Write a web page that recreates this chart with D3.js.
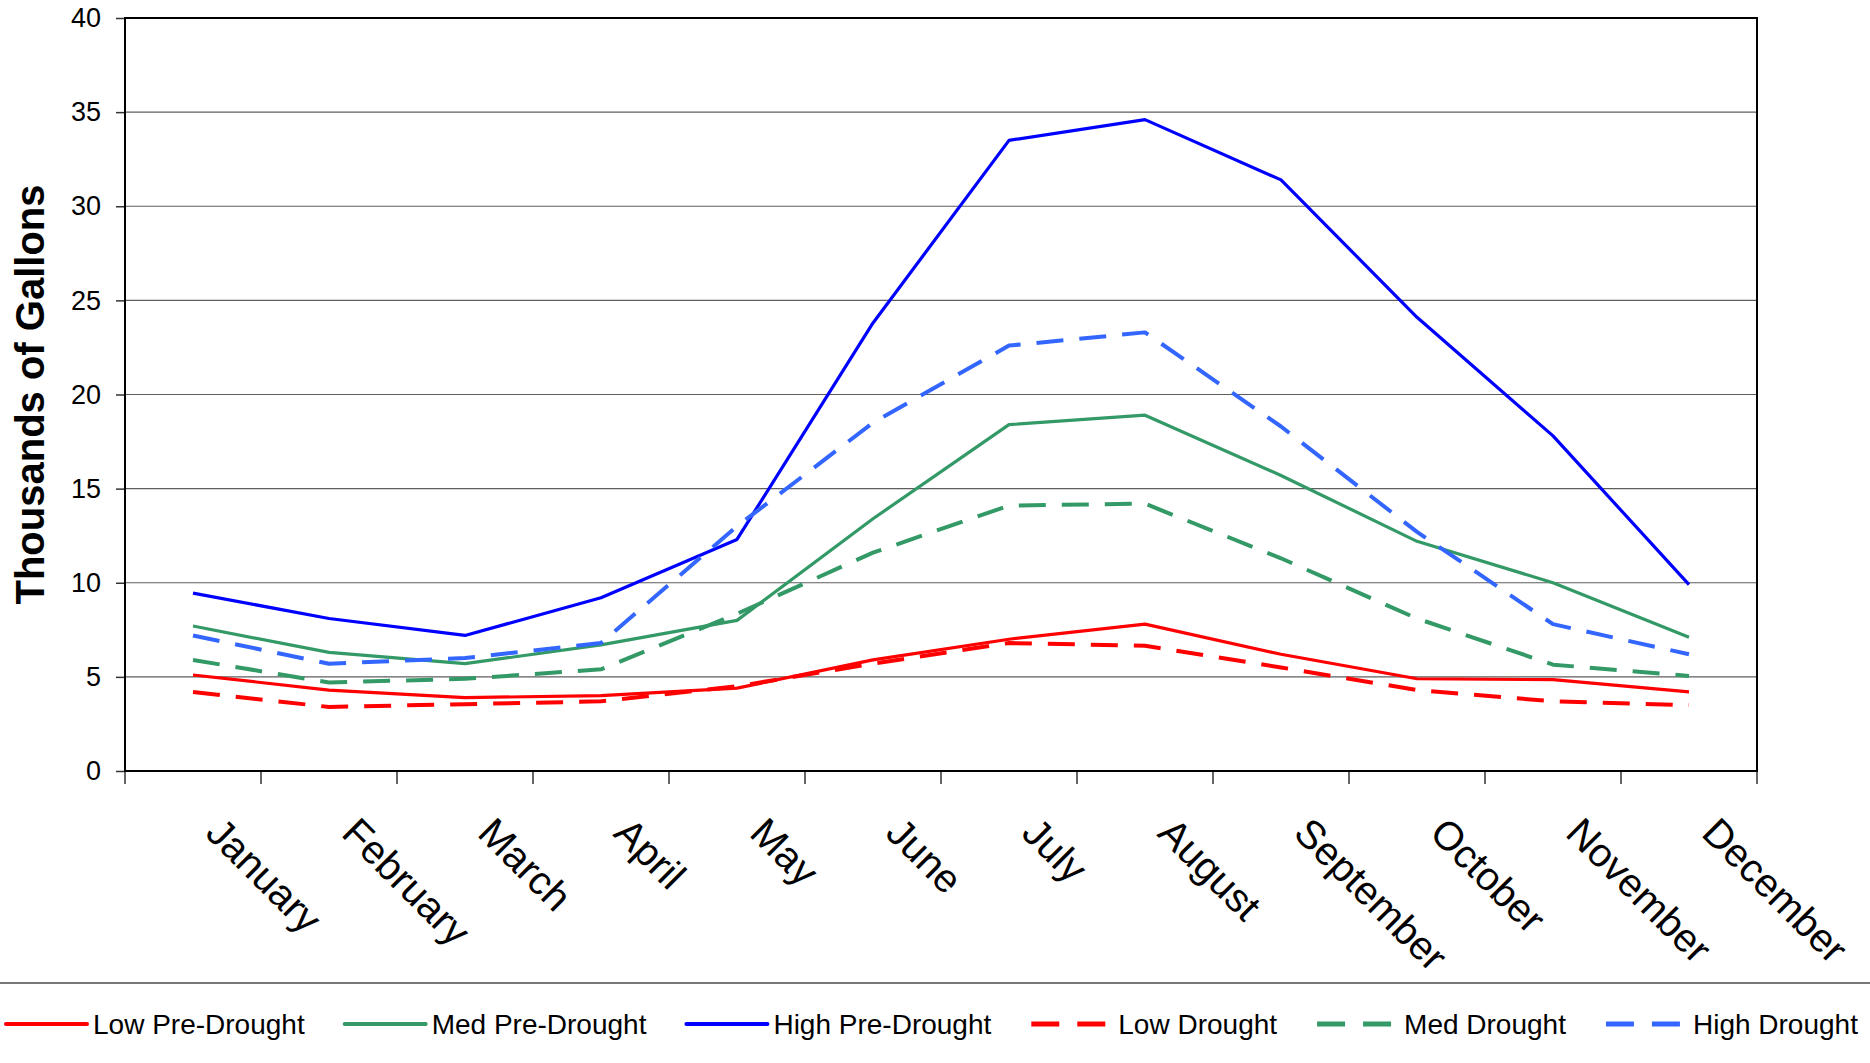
<!DOCTYPE html>
<html>
<head>
<meta charset="utf-8">
<script src="https://cdn.jsdelivr.net/npm/d3@7"></script>
<style>
  html, body { margin: 0; padding: 0; background: #fff; }
  svg { display: block; font-family: "Liberation Sans", Arial, sans-serif; }
</style>
</head>
<body>
<svg id="chart" width="1870" height="1063"></svg>
<script>
const months = ["January","February","March","April","May","June","July","August","September","October","November","December"];
const yTicks = [0,5,10,15,20,25,30,35,40];
const lowPreDrought  = [5.1, 4.3, 3.9, 4.0, 4.4, 5.9, 7.0, 7.8, 6.2, 4.9, 4.85, 4.2];
const medPreDrought  = [7.7, 6.3, 5.7, 6.7, 8.0, 13.4, 18.4, 18.9, 15.7, 12.2, 10.0, 7.1];
const highPreDrought = [9.45, 8.1, 7.2, 9.2, 12.3, 23.8, 33.5, 34.6, 31.4, 24.1, 17.8, 9.9];
const lowDrought     = [4.2, 3.4, 3.55, 3.7, 4.5, 5.7, 6.8, 6.65, 5.5, 4.3, 3.7, 3.5];
const medDrought     = [5.9, 4.7, 4.9, 5.4, 8.35, 11.6, 14.1, 14.2, 11.3, 8.1, 5.65, 5.05];
const highDrought    = [7.2, 5.7, 6.0, 6.8, 13.0, 18.5, 22.6, 23.3, 18.3, 12.7, 7.8, 6.2];
const seriesNames = ["Low Pre-Drought","Med Pre-Drought","High Pre-Drought","Low Drought","Med Drought","High Drought"];
const yTitle = "Thousands of Gallons";

const series = [
  {name: seriesNames[0], values: lowPreDrought,  color: "#FF0000", dash: null},
  {name: seriesNames[1], values: medPreDrought,  color: "#339966", dash: null},
  {name: seriesNames[2], values: highPreDrought, color: "#0000FF", dash: null},
  {name: seriesNames[3], values: lowDrought,     color: "#FF0000", dash: "27,16"},
  {name: seriesNames[4], values: medDrought,     color: "#339966", dash: "27,16"},
  {name: seriesNames[5], values: highDrought,    color: "#3366FF", dash: "27,16"}
];

const svg = d3.select("#chart");
const L = 125, R = 1757, T = 18, B = 771;

const x = d3.scaleBand().domain(months).range([L, R]).padding(0);
const y = d3.scaleLinear().domain([0, 40]).range([B, T]);

// gridlines
svg.append("g").selectAll("line")
  .data(yTicks.filter(v => v > 0 && v < 40))
  .join("line")
  .attr("x1", L).attr("x2", R)
  .attr("y1", d => y(d)).attr("y2", d => y(d))
  .attr("stroke", "#5e5e5e").attr("stroke-width", 1.2);

// left axis
const yAxis = d3.axisLeft(y).tickValues(yTicks).tickSizeInner(9).tickSizeOuter(0).tickPadding(15);
const gy = svg.append("g").attr("transform", `translate(${L},0)`).call(yAxis);
gy.select(".domain").remove();
gy.selectAll(".tick line").attr("stroke", "#333").attr("stroke-width", 1.5);
gy.selectAll(".tick text").attr("font-size", 27).attr("fill", "#000")
  .attr("font-family", "Liberation Sans, Arial, sans-serif");

// bottom ticks at category boundaries
const boundaries = months.map(m => x(m)).concat([x.range()[1]]);
svg.append("g").selectAll("line")
  .data(boundaries)
  .join("line")
  .attr("x1", d => d).attr("x2", d => d)
  .attr("y1", B).attr("y2", B + 13)
  .attr("stroke", "#333").attr("stroke-width", 1.5);

// plot border
svg.append("rect")
  .attr("x", L).attr("y", T).attr("width", R - L).attr("height", B - T)
  .attr("fill", "none").attr("stroke", "#000").attr("stroke-width", 2);

// month labels
svg.append("g").selectAll("text")
  .data(months)
  .join("text")
  .attr("transform", d => `translate(${x(d) + x.bandwidth() / 2 + 21},825) rotate(45)`)
  .attr("text-anchor", "start")
  .attr("dominant-baseline", "central")
  .attr("font-size", 40)
  .attr("fill", "#000")
  .text(d => d);

// y title
svg.append("text")
  .attr("transform", `translate(30,${(T + B) / 2}) rotate(-90)`)
  .attr("text-anchor", "middle")
  .attr("dominant-baseline", "central")
  .attr("font-size", 40)
  .attr("font-weight", "bold")
  .attr("fill", "#000")
  .text(yTitle);

// lines
const line = d3.line()
  .x((d, i) => x(months[i]) + x.bandwidth() / 2)
  .y(d => y(d));

svg.append("g").selectAll("path")
  .data(series)
  .join("path")
  .attr("d", d => line(d.values))
  .attr("fill", "none")
  .attr("stroke", d => d.color)
  .attr("stroke-width", d => d.dash ? 4 : 3.2)
  .attr("stroke-dasharray", d => d.dash)
  .attr("stroke-linejoin", "round");

// legend
svg.append("line")
  .attr("x1", 0).attr("x2", 1870).attr("y1", 983).attr("y2", 983)
  .attr("stroke", "#777").attr("stroke-width", 2);

const lg = svg.append("g");
let cx = 6;
const ly = 1024;
series.forEach(s => {
  lg.append("line")
    .attr("x1", cx).attr("x2", cx + (s.dash ? 74 : 81))
    .attr("y1", ly).attr("y2", ly)
    .attr("stroke", s.color)
    .attr("stroke-width", s.dash ? 5 : 4)
    .attr("stroke-dasharray", s.dash ? "28,18" : null)
    .attr("stroke-linecap", s.dash ? "butt" : "round");
  const t = lg.append("text")
    .attr("x", cx + 87).attr("y", ly)
    .attr("dominant-baseline", "central")
    .attr("font-size", 28)
    .attr("fill", "#000")
    .text(s.name);
  cx = cx + 87 + t.node().getComputedTextLength() + 40;
});
</script>
</body>
</html>
